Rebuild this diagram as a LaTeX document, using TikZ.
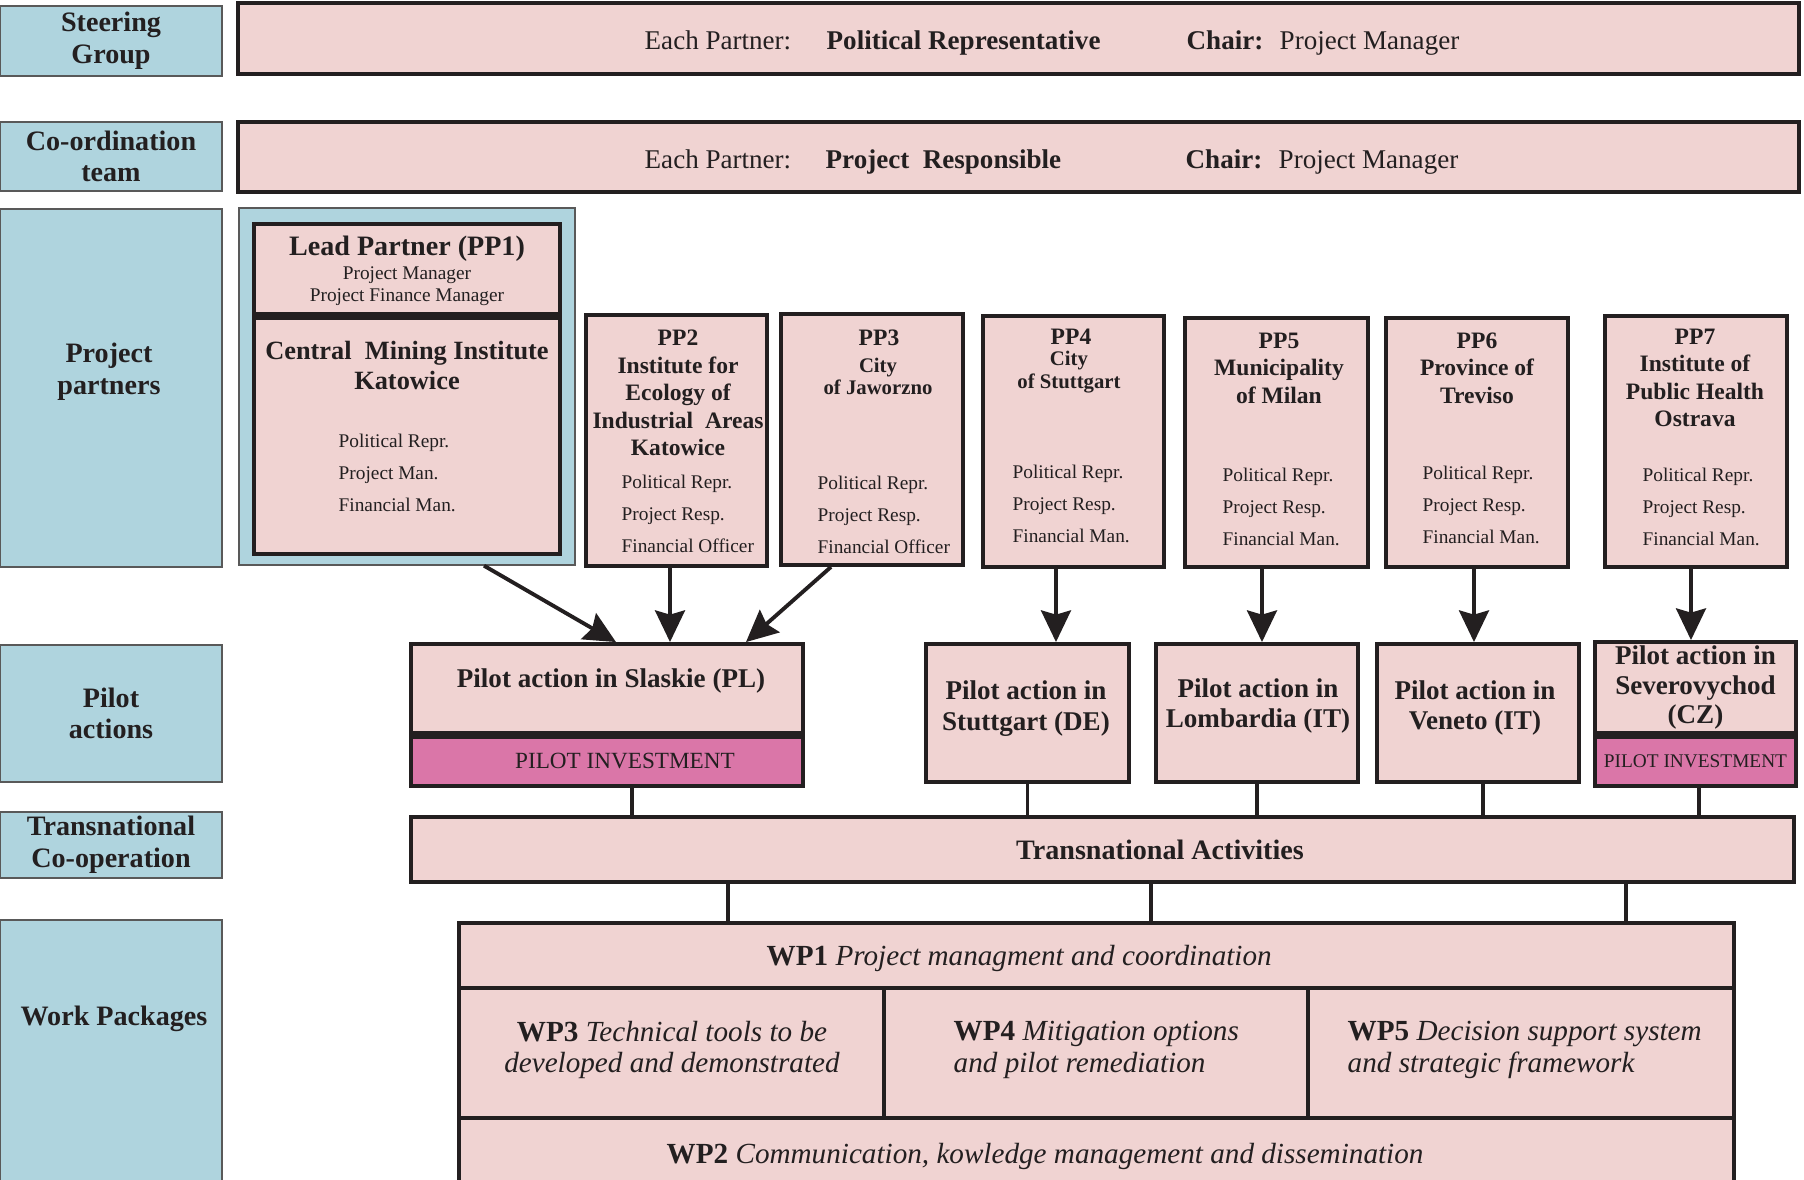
\documentclass[tikz,border=0pt]{standalone}
\usepackage{fontspec}
\setmainfont{Liberation Serif}
\usetikzlibrary{arrows.meta, positioning}
\definecolor{boxpink}{HTML}{F0D3D2}
\definecolor{sideblue}{HTML}{AFD4DE}
\definecolor{investpink}{HTML}{DA76A8}
\definecolor{inkblack}{HTML}{231F20}
\tikzset{
    sidebox/.style={
        rectangle, draw=black!65, line width=0.4pt,
        fill=sideblue, inner sep=0pt, align=center, text=inkblack,
        font=\fontsize{8}{9}\selectfont\bfseries
    },
    unitbox/.style={
        rectangle, draw=inkblack, line width=1.1pt,
        fill=boxpink, inner sep=0pt, align=center, text=inkblack,
        font=\fontsize{7.7}{8.7}\selectfont\bfseries
    },
    investbox/.style={
        unitbox, fill=investpink,
        font=\fontsize{6.6}{8}\selectfont
    },
    headtxt/.style={font=\fontsize{8}{9}\selectfont\bfseries, text=inkblack, inner sep=0pt, align=center},
    pilottxt/.style={font=\fontsize{7.7}{8.8}\selectfont\bfseries, text=inkblack, inner sep=0pt, align=center},
    nametxt/.style={font=\fontsize{6.7}{7.8}\selectfont\bfseries, text=inkblack, inner sep=0pt, align=center},
    citytxt/.style={font=\fontsize{5.9}{6.4}\selectfont\bfseries, text=inkblack, inner sep=0pt, align=center},
    smalltxt/.style={font=\fontsize{5.5}{6.3}\selectfont, text=inkblack, inner sep=0pt, align=center},
    roletxt/.style={font=\fontsize{5.5}{9.1}\selectfont, text=inkblack, inner sep=0pt, align=left, anchor=west},
    bartxt/.style={font=\fontsize{7.7}{9}\selectfont, text=inkblack, inner sep=0pt, anchor=base west},
    barbold/.style={bartxt, font=\fontsize{7.7}{9}\selectfont\bfseries},
    wptxt/.style={font=\fontsize{8.3}{8.9}\selectfont, text=inkblack, inner sep=0pt},
    flow/.style={draw=inkblack, line width=1.1pt, -{Stealth[length=9pt, width=8.5pt, inset=1.2pt]}},
    link/.style={draw=inkblack, line width=0.9pt}
}

\begin{document}
\begin{tikzpicture}[x=0.1mm, y=-0.1mm]
\useasboundingbox (0,0) rectangle (1804,1180);

% Row labels
\node[sidebox, minimum width=22.2mm, minimum height=7mm] (steer) at (111,41) {Steering\\Group};
\node[sidebox, minimum width=22.2mm, minimum height=6.9mm] (coord) at (111,156.5) {Co-ordination\\team};
\node[sidebox, minimum width=22.2mm, minimum height=35.8mm] (partners) at (111,388) {};
\node[headtxt] (partnerstxt) at (109,372) {Project\\partners};
\node[sidebox, minimum width=22.2mm, minimum height=13.7mm] (pilots) at (111,713.5) {Pilot\\actions};
\node[sidebox, minimum width=22.2mm, minimum height=6.6mm] (transco) at (111,845) {Transnational\\Co-operation};
\node[sidebox, minimum width=22.2mm, minimum height=27.5mm] (workpk) at (111,1057.5) {};
\node[headtxt] (workpktxt) at (114,1019) {Work Packages};

% Steering group
\node[unitbox, minimum width=156.1mm, minimum height=7.1mm] (steerbar) at (1018.5,38.5) {};
\node[bartxt] (steereach) at (644,50) {Each Partner:};
\node[barbold] (steerrole) at (826,50) {Political Representative};
\node[barbold] (steerchair) at (1186,50) {Chair:};
\node[bartxt] (steerpm) at (1279,50) {Project Manager};

% Co-ordination team
\node[unitbox, minimum width=156.1mm, minimum height=7mm] (coordbar) at (1018.5,157) {};
\node[bartxt] (coordeach) at (644,169) {Each Partner:};
\node[barbold] (coordrole) at (825,169) {Project\ \ Responsible};
\node[barbold] (coordchair) at (1185,169) {Chair:};
\node[bartxt] (coordpm) at (1278,169) {Project Manager};

% Lead partner
\node[sidebox, minimum width=33.6mm, minimum height=35.7mm] (leadbg) at (407,386.5) {};
\node[unitbox, minimum width=30.6mm, minimum height=9mm] (leadtop) at (407,269) {};
\node[unitbox, minimum width=30.6mm, minimum height=23.6mm, below=0pt of leadtop] (leadbody) {};
\node[headtxt] (leadname) at (407,249) {Lead Partner (PP1)};
\node[smalltxt] (leadstaff) at (407,286) {Project Manager\\Project Finance Manager};
\node[headtxt, font=\fontsize{7.5}{8.8}\selectfont\bfseries] (leadinst) at (407,365.5) {Central\ \ Mining Institute\\Katowice};
\node[roletxt] (leadroles) at (338,473) {Political Repr.\\Project Man.\\Financial Man.};

% Project partners PP2 - PP7
\node[unitbox, minimum width=18.1mm, minimum height=25.1mm] (pp2) at (676.5,440.5) {};
\node[nametxt] (pp2name) at (678,393) {PP2\\Institute for\\Ecology of\\Industrial\ \ Areas\\Katowice};
\node[roletxt] (pp2roles) at (621,514) {Political Repr.\\Project Resp.\\Financial Officer};

\node[unitbox, minimum width=18.2mm, minimum height=25.1mm] (pp3) at (872,439.5) {};
\node[nametxt] (pp3id) at (879,338) {PP3};
\node[citytxt] (pp3name) at (878,376.5) {City\\of Jaworzno};
\node[roletxt] (pp3roles) at (817,515) {Political Repr.\\Project Resp.\\Financial Officer};

\node[unitbox, minimum width=18.1mm, minimum height=25.1mm] (pp4) at (1073.5,441.5) {};
\node[nametxt] (pp4id) at (1071,337) {PP4};
\node[citytxt] (pp4name) at (1069,372) {City\\of Stuttgart};
\node[roletxt] (pp4roles) at (1012,504) {Political Repr.\\Project Resp.\\Financial Man.};

\node[unitbox, minimum width=18.3mm, minimum height=24.9mm] (pp5) at (1276.5,442.5) {};
\node[nametxt] (pp5name) at (1279,368) {PP5\\Municipality\\of Milan};
\node[roletxt] (pp5roles) at (1222,507) {Political Repr.\\Project Resp.\\Financial Man.};

\node[unitbox, minimum width=18.2mm, minimum height=24.9mm] (pp6) at (1477,442.5) {};
\node[nametxt] (pp6name) at (1477,368) {PP6\\Province of\\Treviso};
\node[roletxt] (pp6roles) at (1422,505) {Political Repr.\\Project Resp.\\Financial Man.};

\node[unitbox, minimum width=18.2mm, minimum height=25.1mm] (pp7) at (1696,441.5) {};
\node[nametxt] (pp7name) at (1695,378) {PP7\\Institute of\\Public Health\\Ostrava};
\node[roletxt] (pp7roles) at (1642,507) {Political Repr.\\Project Resp.\\Financial Man.};

% Pilot actions
\node[unitbox, minimum width=39.2mm, minimum height=8.9mm] (pa1) at (607,688.5) {};
\node[pilottxt] (pa1txt) at (611,681) {Pilot action in Slaskie (PL)};
\node[investbox, minimum width=39.2mm, minimum height=4.9mm, below=0pt of pa1] (inv1) {\hspace*{3.6mm}PILOT INVESTMENT};
\node[unitbox, minimum width=20.3mm, minimum height=13.8mm] (pa2) at (1027.5,713) {};
\node[pilottxt] (pa2txt) at (1026,709) {Pilot action in\\Stuttgart (DE)};
\node[unitbox, minimum width=20.2mm, minimum height=13.8mm] (pa3) at (1257,713) {};
\node[pilottxt] (pa3txt) at (1258,706) {Pilot action in\\Lombardia (IT)};
\node[unitbox, minimum width=20.2mm, minimum height=13.8mm] (pa4) at (1478,713) {};
\node[pilottxt] (pa4txt) at (1475,708) {Pilot action in\\Veneto (IT)};
\node[unitbox, minimum width=20.1mm, minimum height=9.1mm, font=\fontsize{7.7}{8.4}\selectfont\bfseries] (pa5) at (1695.5,687.5) {Pilot action in\\Severovychod\\(CZ)};
\node[investbox, minimum width=20.1mm, minimum height=4.9mm, below=0pt of pa5, font=\fontsize{5.5}{6}\selectfont] (inv5) {PILOT INVESTMENT};

% Transnational activities
\node[unitbox, minimum width=138.3mm, minimum height=6.5mm] (trans) at (1102.5,849.5) {};
\node[headtxt] (transtxt) at (1160,850) {Transnational Activities};

% Work packages
\node[unitbox, minimum width=127.5mm, minimum height=6.5mm] (wp1) at (1096.5,955.5) {};
\node[unitbox, minimum width=42.5mm, minimum height=13mm] (wp3) at (671.5,1053) {};
\node[unitbox, minimum width=42.4mm, minimum height=13mm] (wp4) at (1096,1053) {};
\node[unitbox, minimum width=42.6mm, minimum height=13mm] (wp5) at (1521,1053) {};
\node[unitbox, minimum width=127.5mm, minimum height=8.2mm] (wp2) at (1096.5,1159) {};
\node[wptxt, anchor=west] (wp1txt) at (766,958) {\textbf{WP1} \textit{Project managment and coordination}};
\node[wptxt, align=center] (wp3txt) at (672,1050) {\textbf{WP3} \textit{Technical tools to be}\\\textit{developed and demonstrated}};
\node[wptxt, align=left, anchor=west] (wp4txt) at (953,1050) {\textbf{WP4} \textit{Mitigation options}\\\textit{and pilot remediation}};
\node[wptxt, align=left, anchor=west] (wp5txt) at (1347,1050) {\textbf{WP5} \textit{Decision support system}\\\textit{and strategic framework}};
\node[wptxt, anchor=west] (wp2txt) at (666,1156) {\textbf{WP2} \textit{Communication, kowledge management and dissemination}};

% Partners to pilot actions
\draw[flow] ([xshift=7.7mm]leadbg.south) -- ([xshift=0.9mm]pa1.north);
\draw[flow] ([xshift=-0.65mm]pp2.south) -- ([xshift=-0.65mm]pp2.south |- pa1.north);
\draw[flow] ([xshift=-4.1mm]pp3.south) -- ([xshift=13.9mm]pa1.north);
\draw[flow] ([xshift=-1.75mm]pp4.south) -- ([xshift=-1.75mm]pp4.south |- pa2.north);
\draw[flow] ([xshift=-1.45mm]pp5.south) -- ([xshift=-1.45mm]pp5.south |- pa3.north);
\draw[flow] ([xshift=-0.3mm]pp6.south) -- ([xshift=-0.3mm]pp6.south |- pa4.north);
\draw[flow] ([xshift=-0.5mm]pp7.south) -- ([xshift=-0.5mm]pp7.south |- pa5.north);

% Pilot actions to transnational activities
\draw[link] ([xshift=2.5mm]inv1.south) -- ([xshift=2.5mm]inv1.south |- trans.north);
\draw[link] (pa2.south) -- (pa2.south |- trans.north);
\draw[link] (pa3.south) -- (pa3.south |- trans.north);
\draw[link] ([xshift=0.5mm]pa4.south) -- ([xshift=0.5mm]pa4.south |- trans.north);
\draw[link] ([xshift=0.35mm]inv5.south) -- ([xshift=0.35mm]inv5.south |- trans.north);

% Transnational activities to work packages
\draw[link] ([xshift=-37.45mm]trans.south) -- ([xshift=-37.45mm]trans.south |- wp1.north);
\draw[link] ([xshift=4.85mm]trans.south) -- ([xshift=4.85mm]trans.south |- wp1.north);
\draw[link] ([xshift=52.35mm]trans.south) -- ([xshift=52.35mm]trans.south |- wp1.north);

\end{tikzpicture}
\end{document}
